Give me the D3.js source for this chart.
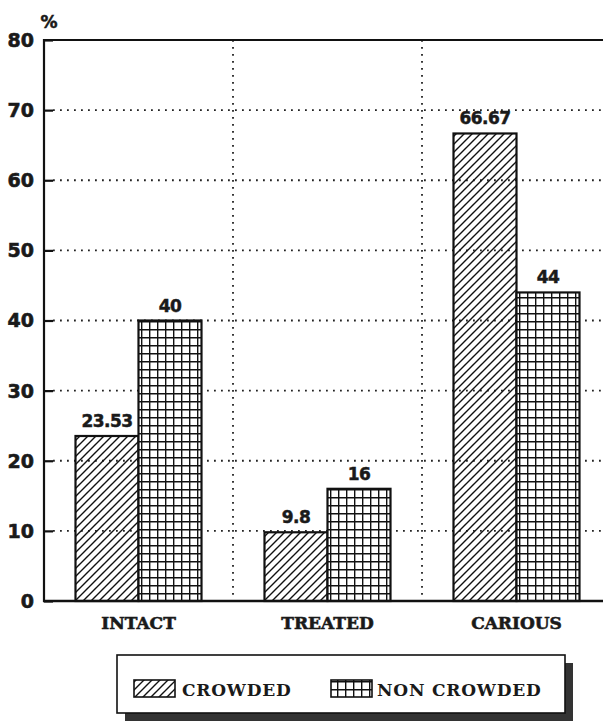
<!DOCTYPE html>
<html><head><meta charset="utf-8">
<script src="https://cdn.jsdelivr.net/npm/d3@7"></script>
<style>body{margin:0;background:#fff}svg{display:block}</style>
</head><body>
<script>
const categories = ["INTACT", "TREATED", "CARIOUS"];
const series = ["CROWDED", "NON CROWDED"];
const crowded = [23.53, 9.8, 66.67];
const nonCrowded = [40, 16, 44];
const crowdedLabels = ["23.53", "9.8", "66.67"];
const nonCrowdedLabels = ["40", "16", "44"];
const yTicks = [0, 10, 20, 30, 40, 50, 60, 70, 80];

const W = 603, H = 721;
const svg = d3.select("body").append("svg").attr("width", W).attr("height", H);
const defs = svg.append("defs");
const hatch = defs.append("pattern").attr("id", "hatch").attr("patternUnits", "userSpaceOnUse")
  .attr("width", 8).attr("height", 8);
hatch.append("path").attr("d", "M-2,2 L2,-2 M0,8 L8,0 M6,10 L10,6")
  .attr("stroke", "#111").attr("stroke-width", 1.4);
const grid = defs.append("pattern").attr("id", "grid").attr("patternUnits", "userSpaceOnUse")
  .attr("width", 8).attr("height", 8).attr("x", 1).attr("y", 1);
grid.append("rect").attr("width", 8).attr("height", 8).attr("fill", "#fff");
grid.append("path").attr("d", "M0,0 H8 M0,0 V8").attr("stroke", "#111").attr("stroke-width", 2.8);

const x0 = 44, x1 = 611, yTop = 40, yBot = 601;
const x = d3.scaleBand().domain(categories).range([x0, x1]).paddingInner(0).paddingOuter(0);
const xs = d3.scaleBand().domain(series).range([0, x.bandwidth()]).paddingOuter(0.5).paddingInner(0);
const y = d3.scaleLinear().domain([0, 80]).range([yBot, yTop]);

// gridlines
svg.append("g").selectAll("line").data(yTicks.filter(t => t > 0 && t < 80)).join("line")
  .attr("x1", x0 + 9).attr("x2", W).attr("y1", d => y(d)).attr("y2", d => y(d))
  .attr("stroke", "#222").attr("stroke-width", 1.8).attr("stroke-dasharray", "1.8,5.2");
// vertical separators
svg.append("g").selectAll("line").data(categories.slice(1)).join("line")
  .attr("x1", d => x(d)).attr("x2", d => x(d)).attr("y1", yTop).attr("y2", yBot)
  .attr("stroke", "#222").attr("stroke-width", 1.8).attr("stroke-dasharray", "1.8,5.2");

// y axis
const yAxis = d3.axisLeft(y).tickValues(yTicks).tickSize(-9).tickPadding(10);
const ya = svg.append("g").attr("transform", `translate(${x0},0)`).call(yAxis);
ya.select(".domain").remove();
ya.selectAll(".tick line").attr("stroke", "#111").attr("stroke-width", 2.2);
ya.selectAll(".tick text").attr("font-family", "DejaVu Sans").attr("font-weight", "bold")
  .attr("font-size", 19).attr("fill", "#1a1a1a").attr("stroke", "#1a1a1a").attr("stroke-width", 0.6)
  .attr("dy", "0.34em");
svg.append("line").attr("x1", x0).attr("x2", x0).attr("y1", yTop - 1).attr("y2", yBot + 1)
  .attr("stroke", "#111").attr("stroke-width", 2.2);
svg.append("line").attr("x1", x0 - 1).attr("x2", W).attr("y1", yTop).attr("y2", yTop)
  .attr("stroke", "#111").attr("stroke-width", 1.8);
svg.append("text").attr("x", 49).attr("y", 28).attr("text-anchor", "middle")
  .attr("font-family", "DejaVu Sans").attr("font-weight", "bold").attr("font-size", 17)
  .attr("fill", "#1a1a1a").attr("stroke", "#1a1a1a").attr("stroke-width", 0.5).text("%");

// bars
const rows = categories.map((c, i) => ({c, vals: [
  {s: series[0], v: crowded[i], l: crowdedLabels[i], f: "url(#hatch)"},
  {s: series[1], v: nonCrowded[i], l: nonCrowdedLabels[i], f: "url(#grid)"}]}));
const gb = svg.append("g").selectAll("g").data(rows).join("g")
  .attr("transform", d => `translate(${x(d.c)},0)`);
gb.selectAll("rect").data(d => d.vals).join("rect")
  .attr("x", d => xs(d.s)).attr("width", xs.bandwidth())
  .attr("y", d => y(d.v)).attr("height", d => y(0) - y(d.v))
  .attr("fill", d => d.f).attr("stroke", "#111").attr("stroke-width", 2.2);
gb.selectAll("text").data(d => d.vals).join("text")
  .attr("x", d => xs(d.s) + xs.bandwidth() / 2).attr("y", d => y(d.v) - 9)
  .attr("text-anchor", "middle").attr("font-family", "DejaVu Sans").attr("font-weight", "bold")
  .attr("font-size", 17).attr("letter-spacing", "-0.6").attr("fill", "#1a1a1a")
  .attr("stroke", "#1a1a1a").attr("stroke-width", 0.5).text(d => d.l);

// baseline
svg.append("line").attr("x1", x0 - 1).attr("x2", W).attr("y1", yBot).attr("y2", yBot)
  .attr("stroke", "#111").attr("stroke-width", 2.4);

// x labels
svg.append("g").selectAll("text").data(categories).join("text")
  .attr("x", d => x(d) + x.bandwidth() / 2).attr("y", 629).attr("text-anchor", "middle")
  .attr("font-family", "DejaVu Serif").attr("font-weight", "bold").attr("font-size", 17)
  .attr("fill", "#1a1a1a").attr("stroke", "#1a1a1a").attr("stroke-width", 0.6).text(d => d);

// legend
svg.append("rect").attr("x", 125).attr("y", 663).attr("width", 448).attr("height", 58).attr("fill", "#333");
svg.append("rect").attr("x", 117).attr("y", 655).attr("width", 448).attr("height", 58)
  .attr("fill", "#fff").attr("stroke", "#111").attr("stroke-width", 1.6);
const lg = [{s: series[0], f: "url(#hatch)", x: 134, tx: 182}, {s: series[1], f: "url(#grid)", x: 331, tx: 377}];
svg.append("g").selectAll("rect").data(lg).join("rect")
  .attr("x", d => d.x).attr("y", 680).attr("width", 41).attr("height", 17)
  .attr("fill", d => d.f).attr("stroke", "#111").attr("stroke-width", 1.6);
svg.append("g").selectAll("text").data(lg).join("text")
  .attr("x", d => d.tx).attr("y", 696).attr("font-family", "DejaVu Serif").attr("font-weight", "bold")
  .attr("font-size", 17).attr("letter-spacing", "0.8").attr("fill", "#1a1a1a").text(d => d.s);
</script>
</body></html>
